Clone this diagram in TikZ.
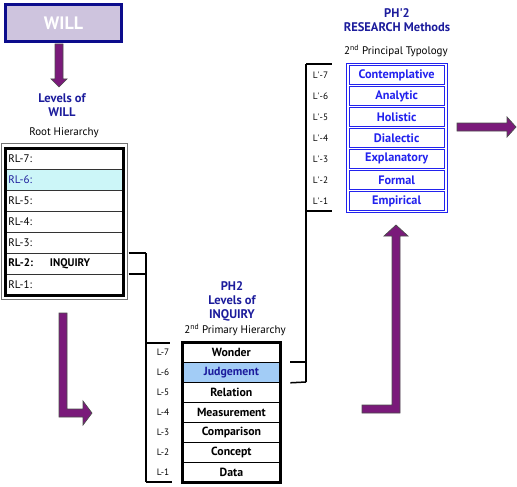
\documentclass[tikz,border=0pt]{standalone}
\usepackage{fontspec}
\setmainfont{PT Sans}
\usetikzlibrary{calc}
\definecolor{willfill}{HTML}{CEC4DE}
\definecolor{willborder}{HTML}{0C0C8C}
\definecolor{navy}{HTML}{1C1C9C}
\definecolor{purp}{HTML}{7A1A7A}
\definecolor{cyanrow}{HTML}{CCF6F8}
\definecolor{judge}{HTML}{A2CCF6}
\definecolor{rblue}{HTML}{2222EE}
\begin{document}
\begin{tikzpicture}[x=1pt,y=-1pt,
  titletext/.style={font=\bfseries\fontsize{12.5}{14}\selectfont, text=navy, align=center, inner sep=0},
  subtext/.style={font=\fontsize{11}{12}\selectfont, inner sep=0},
  bigarrow/.style={fill=purp, draw=black!70, line width=0.7pt},
  rlrow/.style={draw=black!80, line width=0.6pt, anchor=north west, minimum height=21, text width=112, inner xsep=3, inner ysep=0, align=left, font=\fontsize{11}{12}\selectfont},
  lrow/.style={draw=black, line width=0.8pt, anchor=north west, minimum height=20, minimum width=97, inner sep=0, font=\bfseries\fontsize{11.8}{13}\selectfont},
  rcell/.style={draw=rblue, line width=0.8pt, anchor=north west, minimum height=19, minimum width=95.5, inner sep=0, text=rblue, font=\bfseries\fontsize{12.3}{13}\selectfont},
  smalllab/.style={font=\fontsize{9.3}{10}\selectfont, inner sep=0},
  brack/.style={line width=1.5pt}
]
\useasboundingbox (0,0) rectangle (517,487);

% WILL box
\node[draw=willborder, line width=3pt, fill=willfill, minimum width=116, minimum height=37, inner sep=0,
      text=white, font=\bfseries\fontsize{18}{20}\selectfont] (will) at (63.5,23) {WILL};

% down arrow
\draw[bigarrow] (55,44) -- (63,44) -- (63,79) -- (67,79) -- (59,87) -- (51,79) -- (55,79) -- cycle;

% Levels of WILL
\node[titletext] (lw) at (62,105) {Levels of\\WILL};
\node[subtext] (rh) at (64,133) {Root Hierarchy};

% Root table
\node[rlrow] (rl7) at (5,148) {RL-7:};
\node[rlrow, fill=cyanrow, text=navy] (rl6) at (5,169) {RL-6:};
\node[rlrow] (rl5) at (5,190) {RL-5:};
\node[rlrow] (rl4) at (5,211) {RL-4:};
\node[rlrow] (rl3) at (5,232) {RL-3:};
\node[rlrow, font=\bfseries\fontsize{11}{12}\selectfont] (rl2) at (5,253) {RL-2:\hspace{17pt}INQUIRY};
\node[rlrow] (rl1) at (5,274) {RL-1:};
\draw[line width=3pt] (rl7.north west) rectangle (rl1.south east);
\draw[black!55, line width=0.8pt] ($(rl7.north west)+(-4,-5)$) rectangle ($(rl1.south east)+(3.5,4)$);

% bracket root -> middle
\coordinate (b1) at ($(rl2.north east)+(5,0)$);
\coordinate (b2) at ($(rl1.north east)+(5,0)$);
\coordinate (bv1) at (146,253);
\coordinate (bv2) at (146,274);
\coordinate (bl7) at (146,343);
\coordinate (bbot) at (146,482);
\draw[brack] (b1) -- (bv1);
\draw[brack] (b2) -- (bv2);
\draw[brack] (bv1) -- (bbot);
\draw[brack] (bl7) -- ++(24,0);
\draw[brack] (bbot) -- ++(26,0);

% middle title
\node[titletext] (ph2) at (232,301) {PH2\\Levels of\\INQUIRY};
\node[subtext] (prim) at (235,330) {2\textsuperscript{nd} Primary Hierarchy};

% middle table
\node[lrow] (l7) at (182.5,342) {Wonder};
\node[lrow, fill=judge, text=navy] (l6) at (182.5,362) {Judgement};
\node[lrow] (l5) at (182.5,382) {Relation};
\node[lrow] (l4) at (182.5,402) {Measurement};
\node[lrow] (l3) at (182.5,422) {Comparison};
\node[lrow] (l2) at (182.5,442) {Concept};
\node[lrow] (l1) at (182.5,462) {Data};
\draw[line width=3pt] (l7.north west) rectangle (l1.south east);
\foreach \i in {1,...,7} {
  \node[smalllab] (ll\i) at ($(l\i.west)+(-19.5,0)$) {L-\i};
}

% bracket middle -> right
\coordinate (c1) at ($(l6.north east)+(10,0)$);
\coordinate (c2) at ($(l6.south east)+(10,0)$);
\coordinate (cv1) at (306,362);
\coordinate (cv2) at (306,382);
\coordinate (ctop) at (306,64);
\coordinate (cmid) at (306,211);
\draw[brack] (c1) -- (cv1);
\draw[brack] (c2) -- (cv2);
\draw[brack] (cv2) -- (ctop);
\draw[brack] (ctop) -- ++(26,0);
\draw[brack] (cmid) -- ++(26,0);

% right title
\node[titletext] (ph2r) at (397,20.5) {PH\textquotesingle2\\RESEARCH Methods};
\node[subtext] (typ) at (396,51) {2\textsuperscript{nd} Principal Typology};

% right table
\node[draw=rblue, line width=0.8pt, minimum width=101, minimum height=149, anchor=north west, inner sep=0] (rbox) at (346,63) {};
\node[rcell] (r7) at (348.5,65) {Contemplative};
\node[rcell] (r6) at (348.5,86) {Analytic};
\node[rcell] (r5) at (348.5,107) {Holistic};
\node[rcell] (r4) at (348.5,128) {Dialectic};
\node[rcell] (r3) at (348.5,149) {Explanatory};
\node[rcell] (r2) at (348.5,170) {Formal};
\node[rcell] (r1) at (348.5,191) {Empirical};
\foreach \i in {1,...,7} {
  \node[smalllab] (rl\i lab) at ($(r\i.west)+(-28,0)$) {L\textquotesingle-\i};
}

% right arrow
\draw[bigarrow] (457,123) -- (507,123) -- (507,117) -- (516,127) -- (507,137) -- (507,131) -- (457,131) -- cycle;

% up L arrow
\draw[bigarrow] (362,405) -- (392,405) -- (392,236) -- (384,236) -- (396,225) -- (408,236) -- (400,236) -- (400,413) -- (362,413) -- cycle;

% left L arrow
\draw[bigarrow] (59,313) -- (67,313) -- (67,409) -- (83,409) -- (83,401) -- (92,413) -- (83,425) -- (83,417) -- (59,417) -- cycle;

\end{tikzpicture}
\end{document}
